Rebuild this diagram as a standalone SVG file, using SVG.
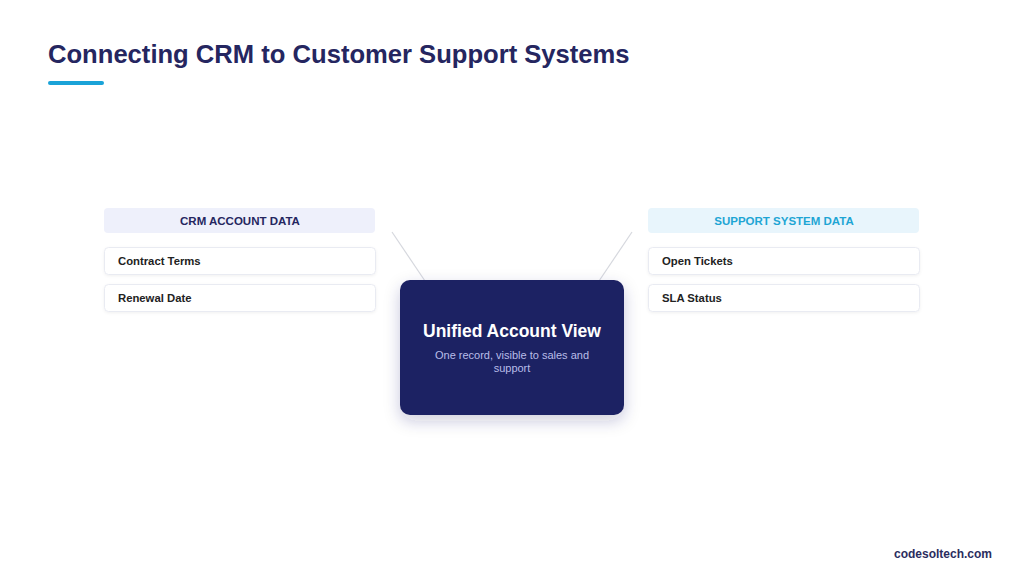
<svg xmlns="http://www.w3.org/2000/svg" width="1024" height="584" viewBox="0 0 1024 584">
<defs>
<style>
text{font-family:"Liberation Sans",Arial,sans-serif}
.title{font-size:25.6px;font-weight:bold;fill:#252660}
.hdr{font-size:11.5px;font-weight:bold;text-anchor:middle}
.item{fill:#ffffff;stroke:#e9ebf2;stroke-width:1}
.itxt{font-size:11.3px;font-weight:bold;fill:#222}
.conn{stroke:#d6d8de;stroke-width:1.2;fill:none}
</style>
<filter id="sh" x="-30%" y="-30%" width="160%" height="170%">
<feDropShadow dx="0" dy="6" stdDeviation="8" flood-color="#1e2160" flood-opacity="0.22"/>
</filter>
<filter id="sh2" x="-5%" y="-30%" width="110%" height="170%">
<feDropShadow dx="0" dy="1" stdDeviation="1.5" flood-color="#000" flood-opacity="0.06"/>
</filter>
</defs>
<rect width="1024" height="584" fill="#ffffff"/>
<text class="title" x="48" y="63">Connecting CRM to Customer Support Systems</text>
<rect x="48" y="81" width="56" height="4" rx="2" fill="#1aa3d8"/>
<g id="connectors">
<line class="conn" x1="392" y1="232" x2="425" y2="281"/>
<line class="conn" x1="632" y1="232" x2="599" y2="281"/>
</g>
<g id="crm-header">
<rect x="104" y="208" width="271" height="25" rx="4" fill="#eef0fb"/>
<text class="hdr" x="240" y="225" fill="#252660">CRM ACCOUNT DATA</text>
</g>
<g id="crm-contract">
<rect class="item" x="104.5" y="247.5" width="271" height="27" rx="4" filter="url(#sh2)"/>
<text class="itxt" x="118" y="265">Contract Terms</text>
</g>
<g id="crm-renewal">
<rect class="item" x="104.5" y="284.5" width="271" height="27" rx="4" filter="url(#sh2)"/>
<text class="itxt" x="118" y="302">Renewal Date</text>
</g>
<g id="support-header">
<rect x="648" y="208" width="271" height="25" rx="4" fill="#e8f5fc"/>
<text class="hdr" x="784" y="225" fill="#1ea5d4">SUPPORT SYSTEM DATA</text>
</g>
<g id="support-tickets">
<rect class="item" x="648.5" y="247.5" width="271" height="27" rx="4" filter="url(#sh2)"/>
<text class="itxt" x="662" y="265">Open Tickets</text>
</g>
<g id="support-sla">
<rect class="item" x="648.5" y="284.5" width="271" height="27" rx="4" filter="url(#sh2)"/>
<text class="itxt" x="662" y="302">SLA Status</text>
</g>
<g id="unified">
<rect x="400" y="280" width="224" height="135" rx="10" fill="#1f2163" filter="url(#sh)"/>
<text x="512" y="337" text-anchor="middle" font-size="17.5" font-weight="bold" fill="#ffffff">Unified Account View</text>
<text x="512" y="359" text-anchor="middle" font-size="11" fill="#b9bde8">One record, visible to sales and</text>
<text x="512" y="372" text-anchor="middle" font-size="11" fill="#b9bde8">support</text>
</g>
<text x="992" y="558" text-anchor="end" font-size="12" font-weight="bold" fill="#2b2d5e">codesoltech.com</text>
</svg>
